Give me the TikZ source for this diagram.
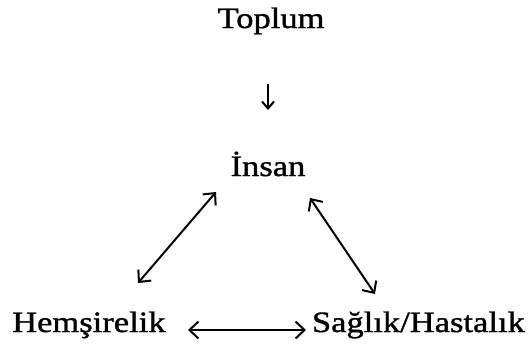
\documentclass[tikz,border=0pt]{standalone}
\usepackage{fontspec}
\setmainfont{Liberation Serif}[FakeStretch=1.17,FakeBold=1.2]
\usetikzlibrary{arrows.meta}
\begin{document}
\begin{tikzpicture}[x=1pt,y=-1pt,
  lbl/.style={font=\fontsize{29.5}{34}\selectfont, inner sep=0pt, anchor=base},
  conn/.style={line width=2pt, {Straight Barb[length=9pt,width=17pt]}-{Straight Barb[length=9pt,width=17pt]}},
  oneway/.style={line width=2pt, -{Straight Barb[length=7pt,width=12pt]}}]
\useasboundingbox (0,0) rectangle (528,348);
\node[lbl] (toplum) at (271,28) {Toplum};
\node[lbl] (insan) at (268,176) {İnsan};
\node[lbl, anchor=base west] (hem) at (12,332) {Hemşirelik};
\node[lbl, anchor=base east] (sag) at (525,332) {Sağlık/Hastalık};
\coordinate (d1) at (268,84);
\coordinate (d2) at (268,110);
\coordinate (l1) at (138,283);
\coordinate (l2) at (216,192);
\coordinate (r1) at (310,198);
\coordinate (r2) at (375,294);
\coordinate (h1) at (188,330);
\coordinate (h2) at (306,330);
\draw[oneway] (d1) -- (d2);
\draw[conn] (l1) -- (l2);
\draw[conn] (r1) -- (r2);
\draw[conn] (h1) -- (h2);
\end{tikzpicture}
\end{document}
